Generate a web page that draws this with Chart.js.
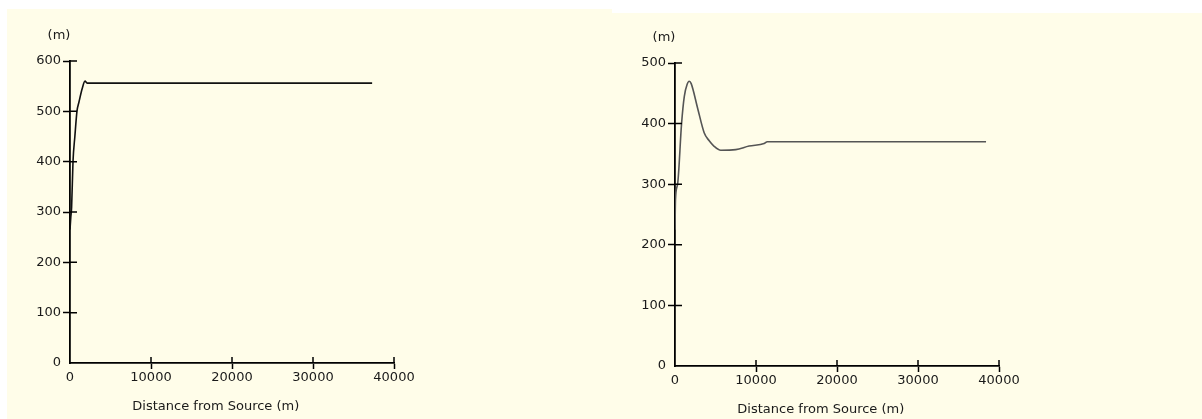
<!DOCTYPE html>
<html>
<head>
<meta charset="utf-8">
<script src="https://cdn.jsdelivr.net/npm/chart.js@4/dist/chart.umd.min.js"></script>
<style>
  html, body { margin: 0; padding: 0; background: #fff; }
  body { width: 1202px; height: 419px; position: relative; overflow: hidden; }
  .panel { position: absolute; background: #FFFDE9; }
  #p1 { left: 7px; top: 9px; width: 605px; height: 410px; }
  #p2 { left: 612px; top: 13px; width: 590px; height: 406px; }
  canvas { display: block; }
</style>
</head>
<body>
<div class="panel" id="p1"><canvas id="chartLeft" width="605" height="410"></canvas></div>
<div class="panel" id="p2"><canvas id="chartRight" width="590" height="406"></canvas></div>
<script>
// values: distance from source (m) vs height (m)
var leftDistance = [0, 100, 200, 370, 600, 860, 1100, 1500, 1850, 2150, 37300];
var leftHeight   = [265, 290, 310, 400, 450, 500, 518, 545, 560, 556, 556];

var rightDistance = [0, 60, 320, 810, 1150, 1500, 1760, 2000, 2800, 3600, 4200, 4800, 5650, 7500, 9140, 11000, 11400, 38400];
var rightHeight   = [225, 275, 300, 400, 445, 465, 470, 466, 425, 385, 372, 363, 356, 357, 363, 367, 370, 370];

var xTicks = [0, 10000, 20000, 30000, 40000];
var xTitle = 'Distance from Source (m)';
var yUnit = '(m)';

Chart.defaults.font.family = 'DejaVu Sans';
Chart.defaults.font.size = 13;
Chart.defaults.color = '#1a1a1a';

// ticks that cross the axis line, plus the unit and x title text
var axisExtras = {
    id: 'axisExtras',
    afterDraw: function(chart) {
        var ctx = chart.ctx;
        var xs = chart.scales.x, ys = chart.scales.y;
        var area = chart.chartArea;
        ctx.save();
        ctx.strokeStyle = '#000';
        ctx.lineWidth = 1.5;
        ctx.beginPath();
        xs.ticks.forEach(function(t) {
            if (t.value === 0) return;
            var px = xs.getPixelForValue(t.value);
            ctx.moveTo(px, area.bottom);
            ctx.lineTo(px, area.bottom - 6);
        });
        ys.ticks.forEach(function(t) {
            if (t.value === 0) return;
            var py = ys.getPixelForValue(t.value);
            ctx.moveTo(area.left, py);
            ctx.lineTo(area.left + 7, py);
        });
        ctx.stroke();
        ctx.fillStyle = '#1a1a1a';
        ctx.font = '13px "DejaVu Sans"';
        ctx.textAlign = 'center';
        ctx.textBaseline = 'middle';
        ctx.fillText(yUnit, area.left - 11, area.top - 25);
        ctx.fillText(xTitle, xs.getPixelForValue(18000), area.bottom + 44);
        ctx.restore();
    }
};

function makeChart(id, xs, ys, yMax, lineColor, padTop, padRight, xHeight) {
    var pts = xs.map(function(x, i) { return {x: x, y: ys[i]}; });
    var tickCol = function(c) { return c.tick && c.tick.value === 0 ? 'rgba(0,0,0,0)' : '#000'; };
    return new Chart(document.getElementById(id), {
        type: 'scatter',
        data: {
            datasets: [{
                data: pts,
                showLine: true,
                borderColor: lineColor,
                borderWidth: 1.6,
                pointRadius: 0,
                cubicInterpolationMode: 'monotone',
                fill: false
            }]
        },
        options: {
            responsive: false,
            animation: false,
            devicePixelRatio: 1,
            layout: { padding: { top: padTop, right: padRight, left: 0, bottom: 0 } },
            plugins: { legend: { display: false }, tooltip: { enabled: false } },
            scales: {
                x: {
                    type: 'linear',
                    min: 0, max: 40000,
                    afterBuildTicks: function(s) { s.ticks = xTicks.map(function(v) { return {value: v}; }); },
                    afterFit: function(s) { s.height = xHeight; },
                    ticks: { padding: 1, maxRotation: 0, callback: function(v) { return String(v); } },
                    grid: { drawOnChartArea: false, drawTicks: true, tickLength: 6, tickColor: tickCol, tickWidth: 1.5 },
                    border: { color: '#000', width: 1.8 }
                },
                y: {
                    min: 0, max: yMax,
                    ticks: { stepSize: 100, padding: 2 },
                    afterFit: function(s) { s.width = 63; },
                    grid: { drawOnChartArea: false, drawTicks: true, tickLength: 7, tickColor: tickCol, tickWidth: 1.5 },
                    border: { color: '#000', width: 1.8 }
                }
            }
        },
        plugins: [axisExtras]
    });
}

makeChart('chartLeft', leftDistance, leftHeight, 600, '#111', 52, 218, 56);
makeChart('chartRight', rightDistance, rightHeight, 500, '#555', 50, 203, 53);
</script>
</body>
</html>
